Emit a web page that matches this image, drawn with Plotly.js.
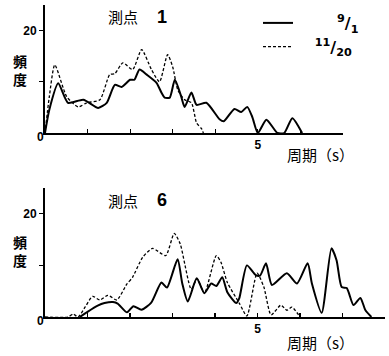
<!DOCTYPE html>
<html><head><meta charset="utf-8">
<script src="https://cdn.plot.ly/plotly-3.0.1.min.js"></script>
<style>html,body{margin:0;padding:0;background:#fff}#c{width:389px;height:356px}</style>
</head><body><div id="c"></div>
<script>
// 測点 1
const p1_x_0901 = [0,0.1,0.31,0.54,0.9,1.25,1.45,1.64,1.8,2.0,2.1,2.22,2.39,2.62,2.74,2.81,2.93,3.05,3.2,3.28,3.44,3.56,3.79,4.1,4.2,4.45,4.61,4.75,4.87,5.0,5.2,5.46,5.62,5.81,6.04];
const p1_y_0901 = [0,4.5,9.7,5.9,6.5,4.9,5.9,9.4,9.0,10.4,10.4,12.4,11.4,9.8,7.8,6.9,6.9,10.4,7.1,5.1,7.9,5.5,5.9,2.7,2.3,4.7,4.1,5.1,3.1,0,2.6,0,0,2.9,0];
const p1_x_1120 = [0,0.1,0.23,0.51,0.78,0.98,1.29,1.52,1.64,1.83,2.06,2.27,2.5,2.69,2.88,3.0,3.12,3.28,3.44,3.56,3.68,3.72];
const p1_y_1120 = [0,7,13.3,7.1,5.1,5.9,6.5,11.4,11.6,13.7,12.4,16.3,12.4,10.0,15.3,12.9,8.4,6.5,5.9,2.0,0.8,0];
// 測点 6
const p6_x_0901 = [0.82,1.0,1.24,1.4,1.6,1.71,1.93,2.08,2.27,2.5,2.74,2.87,3.12,3.23,3.36,3.57,3.75,3.91,4.03,4.17,4.29,4.5,4.57,4.75,4.96,5.06,5.2,5.34,5.69,5.93,6.18,6.28,6.51,6.74,6.86,6.98,7.1,7.26,7.42,7.54,7.68];
const p6_y_0901 = [0,1.0,2.2,2.7,2.9,2.6,0.9,2.1,1.4,2.8,6.7,5.7,11.2,6.5,3.0,7.5,4.6,6.5,6.0,7.7,4.8,2.7,3.6,10.0,8.1,8.0,10.4,6.2,8.5,6.5,10.4,6.5,0.8,13.3,11.0,5.8,5.6,2.3,3.7,1.3,0];
const p6_x_1120 = [0,0.55,0.66,0.78,0.95,1.12,1.29,1.48,1.69,1.92,2.06,2.3,2.53,2.84,3.04,3.18,3.44,3.58,3.75,4.03,4.14,4.29,4.57,4.75,4.99,5.15,5.32,5.55,5.69,5.81,6.0];
const p6_y_1120 = [0,0,0.6,0,2,4.0,3.3,4.2,3.3,6.3,7.7,11.6,13.3,11.9,16.2,14.2,5.4,7.4,4.6,11.9,10.6,6.7,2.7,0.2,8.5,5.8,0.4,2.3,1.3,1.9,0];
const seriesNames = ['<sup>9</sup>/<sub>1</sub>', '<sup>11</sup>/<sub>20</sub>'];
const xLabelVals = [5];
const xLabelText = ['5'];
const xMinorVals1 = [1,2,3,4,6,7];
const xMinorVals2 = [1,2,3,4,6,7,8];
const yLabelVals = [20];
const yLabelText = ['20'];
const yMinorVals = [10];

const cjk = '"Noto Sans CJK JP", sans-serif';
const num = '"Liberation Sans", Arial, sans-serif';
const solid = {color:'#000', width:2, shape:'spline', smoothing:0.6};
const dashed = {color:'#000', width:1.3, dash:'3px,2px', shape:'spline', smoothing:0.6};
const nb = n => '\u00a0'.repeat(n);

const traces = [
  {x:p1_x_0901, y:p1_y_0901, mode:'lines', line:solid, name:nb(7) + seriesNames[0], xaxis:'x', yaxis:'y', showlegend:true},
  {x:p1_x_1120, y:p1_y_1120, mode:'lines', line:dashed, name:nb(3) + seriesNames[1], xaxis:'x', yaxis:'y', showlegend:true},
  {x:p6_x_0901, y:p6_y_0901, mode:'lines', line:solid, name:seriesNames[0], xaxis:'x2', yaxis:'y2', showlegend:false},
  {x:p6_x_1120, y:p6_y_1120, mode:'lines', line:dashed, name:seriesNames[1], xaxis:'x2', yaxis:'y2', showlegend:false}
];

function xax(domain, range, minorVals, anchor){
  return {domain:domain, range:range, anchor:anchor, showgrid:false, zeroline:false,
    showline:true, linecolor:'#000', linewidth:1.5, ticks:'inside', ticklen:4, tickwidth:1.2, tickcolor:'#000',
    tickmode:'array', tickvals:xLabelVals, ticktext:xLabelText,
    minor:{tickmode:'array', tickvals:minorVals, ticks:'inside', ticklen:4, tickwidth:1.2, tickcolor:'#000', showgrid:false},
    tickfont:{family:num, size:12, color:'#000', weight:'bold'}, fixedrange:true};
}
function yax(domain, anchor){
  return {domain:domain, range:[0,25], anchor:anchor, showgrid:false, zeroline:false,
    showline:true, linecolor:'#000', linewidth:2, ticks:'outside', ticklen:4, tickwidth:1.2, tickcolor:'#000',
    tickmode:'array', tickvals:yLabelVals, ticktext:yLabelText,
    minor:{tickmode:'array', tickvals:yMinorVals, ticks:'outside', ticklen:4, tickwidth:1.2, tickcolor:'#000', showgrid:false},
    tickfont:{family:num, size:12, color:'#000', weight:'bold'}, fixedrange:true};
}

const ann = (text, x, y, size, font, weight) => ({text:text, x:x/389, y:1-y/356, xref:'paper', yref:'paper',
  showarrow:false, font:{family:font, size:size, color:'#000', weight:weight||'normal'}, xanchor:'center', yanchor:'middle'});

const layout = {
  width:389, height:356, margin:{l:0,r:0,t:0,b:0}, paper_bgcolor:'#fff', plot_bgcolor:'rgba(0,0,0,0)',
  xaxis: xax([45/389, 343/389], [0,7], xMinorVals1, 'y'),
  yaxis: yax([1-133/356, 1-5/356], 'x'),
  xaxis2: xax([45/389, 385/389], [0,8], xMinorVals2, 'y2'),
  yaxis2: yax([1-317/356, 1-188/356], 'x2'),
  showlegend:true,
  legend:{x:258/389, y:1-6/356, xanchor:'left', yanchor:'top', bgcolor:'rgba(0,0,0,0)',
    font:{family:'"DejaVu Sans", sans-serif', size:16, color:'#000', weight:'bold'}, itemwidth:30},
  annotations:[
    ann('測点', 123, 17, 15, cjk),
    ann('1', 162, 17, 18, num, 'bold'),
    ann('測点', 123, 200, 15, cjk),
    ann('6', 162, 200, 18, num, 'bold'),
    ann('頻<br>度', 20, 70, 14, cjk, 'bold'),
    ann('頻<br>度', 20, 251, 14, cjk, 'bold'),
    ann('0', 40, 137, 12, num, 'bold'),
    ann('0', 40, 321, 12, num, 'bold'),
    ann('周期（s）', 320, 154, 15, cjk),
    ann('周期（s）', 320, 342, 15, cjk)
  ]
};
Plotly.newPlot('c', traces, layout, {staticPlot:true, displayModeBar:false});
</script></body></html>
